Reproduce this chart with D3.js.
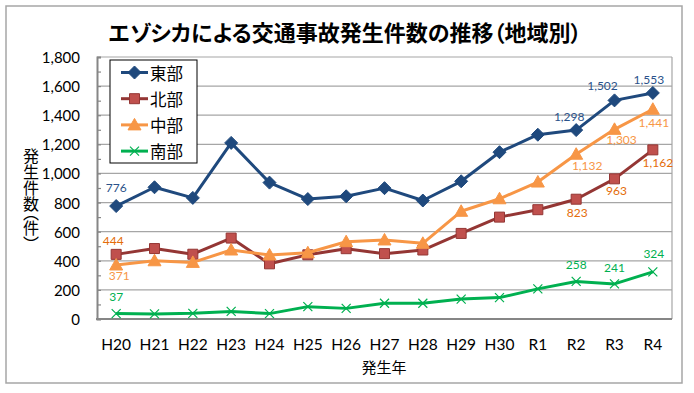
<!DOCTYPE html>
<html>
<head>
<meta charset="utf-8">
<script src="https://cdn.jsdelivr.net/npm/d3@7"></script>
<style>
  body { margin: 0; background: #fff; }
  text { font-family: Lato, "Noto Sans CJK JP", sans-serif; }
  .jp { font-family: "Noto Sans CJK JP", sans-serif; }
</style>
</head>
<body>
<svg id="chart" width="694" height="393"></svg>
<script>
var years = ["H20", "H21", "H22", "H23", "H24", "H25", "H26", "H27", "H28", "H29", "H30", "R1", "R2", "R3", "R4"];
var seriesNames = ["東部", "北部", "中部", "南部"];
var east = [776, 905, 832, 1210, 937, 824, 843, 899, 814, 946, 1146, 1266, 1298, 1502, 1553];
var north = [444, 484, 445, 556, 379, 441, 483, 449, 474, 588, 700, 751, 823, 963, 1162];
var central = [371, 400, 389, 474, 440, 455, 531, 543, 520, 740, 826, 941, 1132, 1303, 1441];
var south = [37, 35, 39, 52, 37, 85, 73, 108, 108, 137, 147, 207, 258, 241, 324];
var yTicks = [0, 200, 400, 600, 800, 1000, 1200, 1400, 1600, 1800];
// indices of points that carry a data label
var labelled = [0, 12, 13, 14];

var svg = d3.select("#chart");
var width = 694, height = 393;
var plot = {left: 97, right: 672, top: 57, bottom: 319};

var x = d3.scalePoint().domain(years).range([plot.left, plot.right]).padding(0.5);
var y = d3.scaleLinear().domain([0, 1800]).range([plot.bottom, plot.top]);

// outer frame
svg.append("rect")
  .attr("x", 6).attr("y", 6).attr("width", 676).attr("height", 377)
  .attr("fill", "#fff").attr("stroke", "#a6a6a6").attr("stroke-width", 1.5);

svg.append("text")
  .attr("class", "jp")
  .attr("x", 345).attr("y", 31)
  .attr("text-anchor", "middle").attr("dominant-baseline", "central")
  .attr("font-size", 22).attr("font-weight", "bold").attr("fill", "#000")
  .style("font-feature-settings", "'palt'")
  .text("エゾシカによる交通事故発生件数の推移（地域別）");

// gridlines
svg.append("g").selectAll("line")
  .data(yTicks.slice(1))
  .enter().append("line")
  .attr("x1", plot.left).attr("x2", plot.right)
  .attr("y1", function (d) { return y(d); })
  .attr("y2", function (d) { return y(d); })
  .attr("stroke", "#a6a6a6").attr("stroke-width", 1.2);

// plot border (right)
svg.append("line")
  .attr("x1", plot.right).attr("x2", plot.right)
  .attr("y1", plot.top).attr("y2", plot.bottom)
  .attr("stroke", "#a6a6a6").attr("stroke-width", 1.2);

// y axis
var yAxis = d3.axisLeft(y).tickValues(d3.range(0, 1801, 100)).tickSize(-4).tickFormat("");
var ya = svg.append("g").attr("transform", "translate(" + plot.left + ",0)").call(yAxis);
ya.select(".domain").attr("stroke", "#868686").attr("stroke-width", 2);
ya.selectAll(".tick line").attr("stroke", "#868686").attr("stroke-width", 1.2);

svg.append("g").selectAll("text")
  .data(yTicks)
  .enter().append("text")
  .attr("x", 80)
  .attr("y", function (d) { return y(d); })
  .attr("text-anchor", "end").attr("dominant-baseline", "central")
  .attr("font-size", 15).attr("fill", "#000")
  .text(d3.format(","));

// x axis line
svg.append("line")
  .attr("x1", plot.left - 1).attr("x2", plot.right)
  .attr("y1", plot.bottom).attr("y2", plot.bottom)
  .attr("stroke", "#868686").attr("stroke-width", 2);

svg.append("g").selectAll("text")
  .data(years)
  .enter().append("text")
  .attr("x", function (d) { return x(d); })
  .attr("y", 344)
  .attr("text-anchor", "middle").attr("dominant-baseline", "central")
  .attr("font-size", 15.5).attr("fill", "#000")
  .text(function (d) { return d; });

svg.append("text")
  .attr("class", "jp")
  .attr("x", 384).attr("y", 366)
  .attr("text-anchor", "middle").attr("dominant-baseline", "central")
  .attr("font-size", 15).attr("fill", "#000")
  .text("発生年");

svg.append("text")
  .attr("class", "jp")
  .attr("x", 31).attr("y", 148)
  .style("writing-mode", "vertical-rl")
  .style("font-feature-settings", "'vpal'")
  .attr("font-size", 16).attr("fill", "#000")
  .text("発生件数（件）");

var series = [
  {name: seriesNames[0], values: east, line: "#1f497d", fill: "#1f497d", stroke: "#1f497d", label: "#2a528a", shape: "diamond",
    offs: [[0, -19], [-7, -14], [-12, -15], [-4, -13]]},
  {name: seriesNames[1], values: north, line: "#943634", fill: "#c0504d", stroke: "#943634", label: "#e46c0a", shape: "square",
    offs: [[-3, -14], [1, 13], [2, 12], [5, 13]]},
  {name: seriesNames[2], values: central, line: "#f79646", fill: "#f79646", stroke: "#f79646", label: "#f79646", shape: "triangle",
    offs: [[3, 11], [11, 11], [7, 10], [1, 13]]},
  {name: seriesNames[3], values: south, line: "#00b050", fill: "none", stroke: "#00b050", label: "#00b050", shape: "cross",
    offs: [[0, -17], [0, -17], [0, -16], [1, -18]]}
];

function markerPath(shape) {
  if (shape == "diamond") return "M0,-6.5L6.5,0L0,6.5L-6.5,0Z";
  if (shape == "square") return "M-5,-5L5,-5L5,5L-5,5Z";
  if (shape == "triangle") return "M0,-6.5L6.5,5L-6.5,5Z";
  return "M-4.5,-4.5L4.5,4.5M-4.5,4.5L4.5,-4.5";
}

var line = d3.line()
  .x(function (d, i) { return x(years[i]); })
  .y(function (d) { return y(d); });

series.forEach(function (s) {
  var g = svg.append("g");
  g.append("path")
    .attr("d", line(s.values))
    .attr("fill", "none").attr("stroke", s.line).attr("stroke-width", 3)
    .attr("stroke-linejoin", "round");

  g.selectAll("path.mk")
    .data(s.values)
    .enter().append("path")
    .attr("class", "mk")
    .attr("d", markerPath(s.shape))
    .attr("transform", function (d, i) { return "translate(" + x(years[i]) + "," + y(d) + ")"; })
    .attr("fill", s.fill)
    .attr("stroke", s.stroke)
    .attr("stroke-width", s.shape == "cross" ? 1.2 : 1);

  g.selectAll("text")
    .data(labelled)
    .enter().append("text")
    .attr("x", function (d, k) { return x(years[d]) + s.offs[k][0]; })
    .attr("y", function (d, k) { return y(s.values[d]) + s.offs[k][1]; })
    .attr("text-anchor", "middle").attr("dominant-baseline", "central")
    .attr("font-size", 12).attr("fill", s.label)
    .text(function (d) { return d3.format(",")(s.values[d]); });
});

// legend
var lg = svg.append("g");
lg.append("rect")
  .attr("x", 110).attr("y", 60).attr("width", 87).attr("height", 103)
  .attr("fill", "#fff").attr("stroke", "#000").attr("stroke-width", 1);

var items = lg.selectAll("g.item")
  .data(series)
  .enter().append("g")
  .attr("class", "item")
  .attr("transform", function (d, i) { return "translate(0," + (72.5 + i * 26.2) + ")"; });

items.append("line")
  .attr("x1", 121).attr("x2", 148)
  .attr("stroke", function (d) { return d.line; }).attr("stroke-width", 3);
items.append("path")
  .attr("d", function (d) { return markerPath(d.shape); })
  .attr("transform", "translate(134.5,0)")
  .attr("fill", function (d) { return d.fill; })
  .attr("stroke", function (d) { return d.stroke; })
  .attr("stroke-width", function (d) { return d.shape == "cross" ? 1.2 : 1; });
items.append("text")
  .attr("class", "jp")
  .attr("x", 150).attr("y", 0)
  .attr("dominant-baseline", "central")
  .attr("font-size", 16.5).attr("fill", "#000")
  .text(function (d) { return d.name; });
</script>
</body>
</html>
